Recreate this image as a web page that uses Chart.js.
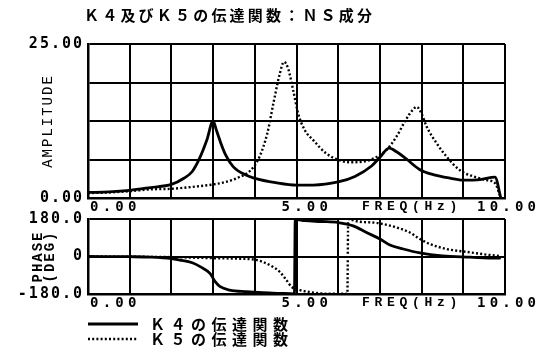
<!DOCTYPE html>
<html>
<head>
<meta charset="utf-8">
<script src="https://cdn.jsdelivr.net/npm/chart.js@4/dist/chart.umd.min.js"></script>
<style>
  html, body { margin: 0; padding: 0; background: #fff; }
  #wrap { position: relative; width: 553px; height: 352px; overflow: hidden; }
  canvas { position: absolute; left: 0; }
  #amp { top: 0; }
  #phase { top: 206px; }
</style>
</head>
<body>
<div id="wrap">
  <canvas id="amp" width="553" height="214"></canvas>
  <canvas id="phase" width="553" height="146"></canvas>
</div>
<script>
// ---- texts ----
const chartTitle = 'Ｋ４及びＫ５の伝達関数：ＮＳ成分';
const seriesNames = ['Ｋ４の伝達関数', 'Ｋ５の伝達関数'];
const ampAxisName = 'AMPLITUDE';
const phaseAxisName = ['PHASE', '(DEG)'];
const freqAxisName = 'FREQ(Hz)';

// ---- tick labels ----
const freqTickValues = [0, 5, 10];
const freqTickLabels = ['0.00', '5.00', '10.00'];
const ampTickValues = [0, 25];
const ampTickLabels = ['0.00', '25.00'];
const phaseTickValues = [-180, 0, 180];
const phaseTickLabels = ['-180.0', '0', '180.0'];

// ---- K4 amplitude ----
const k4AmpFreq = [0, 0.5, 1.0, 1.5, 2.0, 2.3, 2.5, 2.68, 2.85, 3.0, 3.08, 3.17, 3.3, 3.48, 3.8, 4.0, 4.5, 5.0, 5.4, 6.0, 6.4, 6.8, 7.0, 7.22, 7.4, 7.64, 7.96, 8.28, 8.7, 9.0, 9.4, 9.76, 9.9];
const k4Amp     = [0.9, 1.0, 1.25, 1.7, 2.2, 3.2, 4.3, 6.5, 9.4, 12.5, 11.0, 9.2, 7.0, 5.1, 3.7, 3.2, 2.5, 2.1, 2.1, 2.6, 3.5, 5.2, 6.6, 8.1, 7.5, 6.3, 4.6, 3.8, 3.2, 2.9, 3.0, 3.4, 0];

// ---- K5 amplitude ----
const k5AmpFreq = [0, 0.5, 1.0, 1.5, 2.0, 2.5, 3.0, 3.3, 3.6, 3.9, 4.1, 4.3, 4.45, 4.6, 4.7, 4.8, 4.92, 5.04, 5.2, 5.4, 5.7, 6.0, 6.3, 6.6, 6.84, 7.16, 7.4, 7.64, 7.8, 7.88, 8.0, 8.12, 8.36, 8.6, 8.92, 9.24, 9.56, 9.76, 9.9];
const k5Amp     = [0.8, 0.9, 1.1, 1.4, 1.5, 1.8, 2.2, 2.6, 3.3, 4.5, 6.5, 10.5, 15.5, 20.2, 22.1, 21.0, 17.5, 13.7, 11.0, 9.4, 7.3, 6.2, 5.8, 5.9, 6.4, 7.8, 10.0, 12.9, 14.4, 14.8, 13.7, 11.6, 8.9, 6.7, 4.5, 3.5, 2.9, 2.4, 0];

// ---- K4 phase (deg) ----
const k4PhaseFreq = [0, 1.0, 1.5, 2.0, 2.2, 2.5, 2.7, 2.93, 3.05, 3.17, 3.4, 3.8, 4.2, 4.6, 4.95, 4.97, 5.2, 5.6, 6.0, 6.36, 6.68, 7.0, 7.24, 7.56, 7.96, 8.5, 9.16, 9.8, 9.9];
const k4Phase     = [0, -1, -3, -10, -17, -30, -50, -82, -121, -145, -161, -169, -174, -177, -179, 178, 172, 168, 163, 147, 115, 84, 55, 36, 17, 3, -3, -8, -7];

// ---- K5 phase (deg) ----
const k5PhaseFreq = [0, 1.0, 2.0, 3.0, 3.5, 4.0, 4.2, 4.44, 4.6, 4.76, 4.88, 5.08, 5.3, 5.56, 6.0, 6.22, 6.24, 6.5, 6.9, 7.2, 7.4, 7.72, 7.96, 8.2, 8.6, 9.16, 9.56, 9.9];
const k5Phase     = [0, -1, -3, -8, -10, -15, -27, -50, -74, -114, -145, -161, -170, -177, -179, -179, 178, 167, 162, 150, 139, 115, 84, 60, 36, 20, 9, 2];

const toPoints = (xs, ys) => xs.map((x, i) => ({ x, y: ys[i] }));

const solidStyle = { borderColor: '#000', borderWidth: 2.8, borderDash: [] };
const dottedStyle = { borderColor: '#000', borderWidth: 2.4, borderDash: [2, 2.2] };

function lineDataset(label, pts, style) {
  return {
    label, data: pts,
    borderColor: style.borderColor, borderWidth: style.borderWidth, borderDash: style.borderDash,
    pointRadius: 0, fill: false, cubicInterpolationMode: 'monotone'
  };
}

// canvas text spacing used by the library-drawn ticks and axis titles
const spacingPlugin = {
  id: 'spacing',
  beforeDraw(chart) { chart.ctx.letterSpacing = '2px'; }
};

// frequency labels under each panel
const freqLabelPlugin = {
  id: 'freqLabels',
  afterDraw(chart) {
    const ctx = chart.ctx, xs = chart.scales.x, y = chart.chartArea.bottom + 9;
    const shifts = [2, -15, -28];
    ctx.save();
    ctx.fillStyle = '#000';
    ctx.textBaseline = 'middle';
    ctx.textAlign = 'left';
    ctx.font = 'bold 14px "DejaVu Sans Mono"';
    ctx.letterSpacing = '4.2px';
    freqTickValues.forEach((v, i) => ctx.fillText(freqTickLabels[i], xs.getPixelForValue(v) + shifts[i], y));
    ctx.font = 'bold 13px "Liberation Mono"';
    ctx.letterSpacing = '4.7px';
    ctx.fillText(freqAxisName, xs.getPixelForValue(6.5) + 3, y);
    ctx.restore();
  }
};

// heading above the amplitude panel
const headingPlugin = {
  id: 'heading',
  afterDraw(chart) {
    const ctx = chart.ctx;
    ctx.save();
    ctx.fillStyle = '#000';
    ctx.textBaseline = 'middle';
    ctx.textAlign = 'left';
    ctx.font = 'bold 15px "Noto Sans CJK JP"';
    ctx.letterSpacing = '3.2px';
    ctx.fillText(chartTitle, chart.chartArea.left - 4, 15);
    ctx.restore();
  }
};

// series key below the phase panel
const keyPlugin = {
  id: 'seriesKey',
  afterDraw(chart) {
    const ctx = chart.ctx, area = chart.chartArea;
    ctx.save();
    chart.data.datasets.forEach((ds, i) => {
      const y = area.bottom + 30 + i * 15;
      ctx.strokeStyle = ds.borderColor;
      ctx.lineWidth = ds.borderWidth;
      ctx.setLineDash(ds.borderDash || []);
      ctx.beginPath();
      ctx.moveTo(area.left, y);
      ctx.lineTo(area.left + 50, y);
      ctx.stroke();
      ctx.setLineDash([]);
      ctx.fillStyle = '#000';
      ctx.textBaseline = 'middle';
      ctx.textAlign = 'left';
      ctx.font = 'bold 15px "Noto Sans CJK JP"';
      ctx.letterSpacing = '5.5px';
      ctx.fillText(ds.label, area.left + 62, y);
    });
    ctx.restore();
  }
};

const gridStyle = { color: '#000', lineWidth: 2, drawTicks: false };
const borderStyle = { display: true, color: '#000', width: 2.5 };

function xAxis() {
  return {
    type: 'linear', position: 'bottom', min: 0, max: 10,
    ticks: { display: false, stepSize: 1 },
    grid: gridStyle, border: borderStyle
  };
}

function labelFrom(values, labels) {
  return (v) => { const i = values.indexOf(v); return i >= 0 ? labels[i] : ''; };
}

const tickFont = { family: 'DejaVu Sans Mono', size: 15, weight: 'bold' };

// amplitude panel
new Chart(document.getElementById('amp'), {
  type: 'line',
  data: {
    datasets: [
      lineDataset(seriesNames[0], toPoints(k4AmpFreq, k4Amp), solidStyle),
      lineDataset(seriesNames[1], toPoints(k5AmpFreq, k5Amp), dottedStyle)
    ]
  },
  options: {
    responsive: false, animation: false,
    layout: { padding: { left: 0, right: 48, top: 44, bottom: 16 } },
    plugins: { legend: { display: false }, title: { display: false }, tooltip: { enabled: false } },
    scales: {
      x: xAxis(),
      y: {
        type: 'linear', position: 'left', min: 0, max: 25,
        afterFit(scale) { scale.width = 88; },
        ticks: {
          stepSize: 6.25, autoSkip: false, padding: 4, color: '#000',
          font: tickFont,
          callback: labelFrom(ampTickValues, ampTickLabels)
        },
        title: {
          display: true, text: ampAxisName, color: '#000',
          font: { family: 'Liberation Mono', size: 14, lineHeight: 1.2 },
          padding: { top: 40, bottom: 0 }
        },
        grid: gridStyle, border: borderStyle
      }
    }
  },
  plugins: [spacingPlugin, freqLabelPlugin, headingPlugin]
});

// phase panel
new Chart(document.getElementById('phase'), {
  type: 'line',
  data: {
    datasets: [
      lineDataset(seriesNames[0], toPoints(k4PhaseFreq, k4Phase), solidStyle),
      lineDataset(seriesNames[1], toPoints(k5PhaseFreq, k5Phase), dottedStyle)
    ]
  },
  options: {
    responsive: false, animation: false,
    layout: { padding: { left: 0, right: 48, top: 12, bottom: 58 } },
    plugins: { legend: { display: false }, title: { display: false }, tooltip: { enabled: false } },
    scales: {
      x: xAxis(),
      y: {
        type: 'linear', position: 'left', min: -180, max: 180,
        afterFit(scale) { scale.width = 88; },
        ticks: {
          stepSize: 180, autoSkip: false, padding: 4, color: '#000',
          font: tickFont,
          callback: labelFrom(phaseTickValues, phaseTickLabels)
        },
        title: {
          display: true, text: phaseAxisName, color: '#000',
          font: { family: 'Liberation Mono', size: 14, weight: 'bold', lineHeight: 0.9 },
          padding: { top: 32, bottom: 0 }
        },
        grid: gridStyle, border: borderStyle
      }
    }
  },
  plugins: [spacingPlugin, freqLabelPlugin, keyPlugin]
});
</script>
</body>
</html>
